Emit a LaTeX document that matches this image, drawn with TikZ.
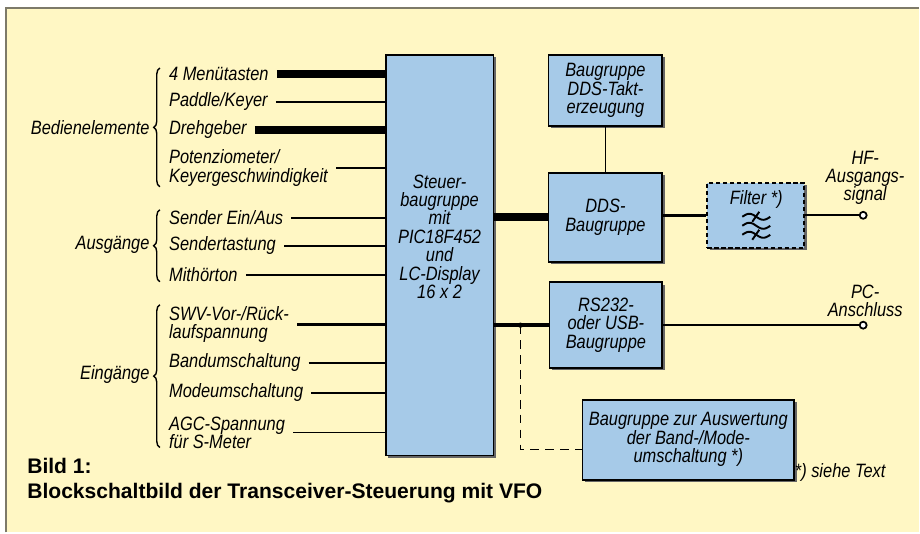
\documentclass[tikz,border=0pt]{standalone}
\usepackage{fontspec}
\usepackage{xcolor}
\usepackage{tikz}
\usetikzlibrary{positioning,calc,shadows,decorations.pathreplacing}
\newfontfamily\labfont{Liberation Sans}[FakeStretch=0.85]
\newfontfamily\capfont{Liberation Sans}
\definecolor{bgyellow}{RGB}{255,247,196}
\definecolor{boxblue}{RGB}{166,202,232}
\definecolor{framegray}{RGB}{125,122,105}

\begin{document}
\begin{tikzpicture}[x=0.02cm, y=-0.02cm, font={\labfont\itshape\fontsize{11}{10.5}\selectfont},
  box/.style={draw, line width=1.1pt, fill=boxblue, align=center, inner sep=0pt, general shadow={fill=black!60, shadow xshift=1.3pt, shadow yshift=-1.3pt}},
  lab/.style={anchor=west, align=left, inner xsep=4.5pt, inner ysep=0pt},
  grp/.style={anchor=east, inner sep=0pt},
  sig/.style={line width=1pt},
  mid/.style={line width=2pt},
  bus/.style={line width=4.5pt},
  dsh/.style={line width=1pt, dash pattern=on 5pt off 3.5pt},
  brc/.style={decorate, decoration={brace, amplitude=3.5pt}, line width=0.8pt},
  port/.style={circle, draw, line width=1pt, fill=white, inner sep=0pt, minimum size=0.14cm}]
\fill[white] (0,0) rectangle (920,533);
\fill[bgyellow] (6,8) rectangle (920,533);
\draw[framegray, line width=1pt] (6,533) -- (6,8) -- (920,8);
\useasboundingbox (0,0) rectangle (920,533);

\node[box, minimum width=2.16cm, minimum height=8.02cm] (steuer) at (440,255.5) {};
\node[align=center] (steuertxt) at (440,237) {Steuer-\\baugruppe\\mit\\PIC18F452\\und\\LC-Display\\16 x 2};
\node[box, minimum width=2.28cm, minimum height=1.42cm] (takt) at (606,90.5) {Baugruppe\\DDS-Takt-\\erzeugung};
\node[box, minimum width=2.28cm, minimum height=1.78cm] (dds) at (606,217.5) {DDS-\\Baugruppe};
\node[box, dash pattern=on 2.4pt off 1.6pt, minimum width=1.94cm, minimum height=1.3cm] (filter) at (756.5,215.5) {};
\node (filtertxt) at (757,200) {Filter *)};
\node[box, minimum width=2.26cm, minimum height=1.72cm] (rs) at (606.5,325.5) {RS232-\\oder USB-\\Baugruppe};
\node[box, minimum width=4.24cm, minimum height=1.6cm] (auswert) at (689,440) {Baugruppe zur Auswertung\\der Band-/Mode-\\umschaltung *)};

\node[port] (hf) at (864,215.5) {};
\node[port] (pc) at (864,325.5) {};
\node[align=center] (hflab) at (866,178) {HF-\\Ausgangs-\\signal};
\node[align=center] (pclab) at (866,301) {PC-\\Anschluss};
\node (siehe) at (841,473) {*) siehe Text};

\node[lab] (menu) at (161,74) {4 Menütasten};
\node[lab] (paddle) at (161,102) {Paddle/Keyer};
\node[lab] (dreh) at (161,130) {Drehgeber};
\node[lab] (poti) at (161,168) {Potenziometer/\\Keyergeschwindigkeit};
\node[lab] (sender) at (161,218) {Sender Ein/Aus};
\node[lab] (tast) at (161,246) {Sendertastung};
\node[lab] (mith) at (161,275) {Mithörton};
\node[lab] (swv) at (161,325) {SWV-Vor-/Rück-\\laufspannung};
\node[lab] (band) at (161,363) {Bandumschaltung};
\node[lab] (mode) at (161,393) {Modeumschaltung};
\node[lab] (agc) at (161,433) {AGC-Spannung\\für S-Meter};

\node[grp] (bed) at (150,128) {Bedienelemente};
\node[grp] (aus) at (150,245) {Ausgänge};
\node[grp] (ein) at (150,375) {Eingänge};
\draw[brc] (160,187) -- (160,68);
\draw[brc] (160,282) -- (160,210);
\draw[brc] (160,448) -- (160,305);

\draw[bus] (menu.east) -- (menu.east -| steuer.west);
\draw[sig] (paddle.east) -- (paddle.east -| steuer.west);
\draw[bus] (dreh.east) -- (dreh.east -| steuer.west);
\draw[sig] (poti.east) -- (poti.east -| steuer.west);
\draw[sig] (sender.east) -- (sender.east -| steuer.west);
\draw[sig] (tast.east) -- (tast.east -| steuer.west);
\draw[sig] (mith.east) -- (mith.east -| steuer.west);
\draw[mid] (swv.east) -- (swv.east -| steuer.west);
\draw[sig] (band.east) -- (band.east -| steuer.west);
\draw[sig] (mode.east) -- (mode.east -| steuer.west);
\draw[sig] (agc.east) -- (agc.east -| steuer.west);

\draw[bus] (steuer.east |- dds.west) -- (dds.west);
\draw[sig] (takt.south) -- (dds.north);
\draw[mid] (dds.east |- filter.west) -- (filter.west);
\draw[sig] (filter.east) -- (hf.west);
\draw[mid] (steuer.east |- rs.west) -- (rs.west);
\draw[sig] (rs.east) -- (pc.west);
\coordinate (j) at ([xshift=0.52cm]steuer.east |- rs.west);
\fill (j) circle (1.5pt);
\draw[dsh] (j) |- ([yshift=-0.2cm]auswert.west);

\foreach \wy in {217,226,235}
  \draw[line width=1.1pt] plot[domain=0:1, samples=25, smooth] ({743+28*\x}, {\wy-3*sin(360*\x)});
\draw[line width=1.1pt] (753,222) -- (760,212);
\draw[line width=1.1pt] (753,240) -- (760,230);

\node[anchor=base west, inner sep=0pt, font={\capfont\bfseries\fontsize{12}{14}\selectfont}] (bild) at (27,474) {Bild 1:};
\node[anchor=base west, inner sep=0pt, font={\capfont\bfseries\fontsize{12}{14}\selectfont}] (titel) at (27,498.5) {Blockschaltbild der Transceiver-Steuerung mit VFO};
\end{tikzpicture}
\end{document}
